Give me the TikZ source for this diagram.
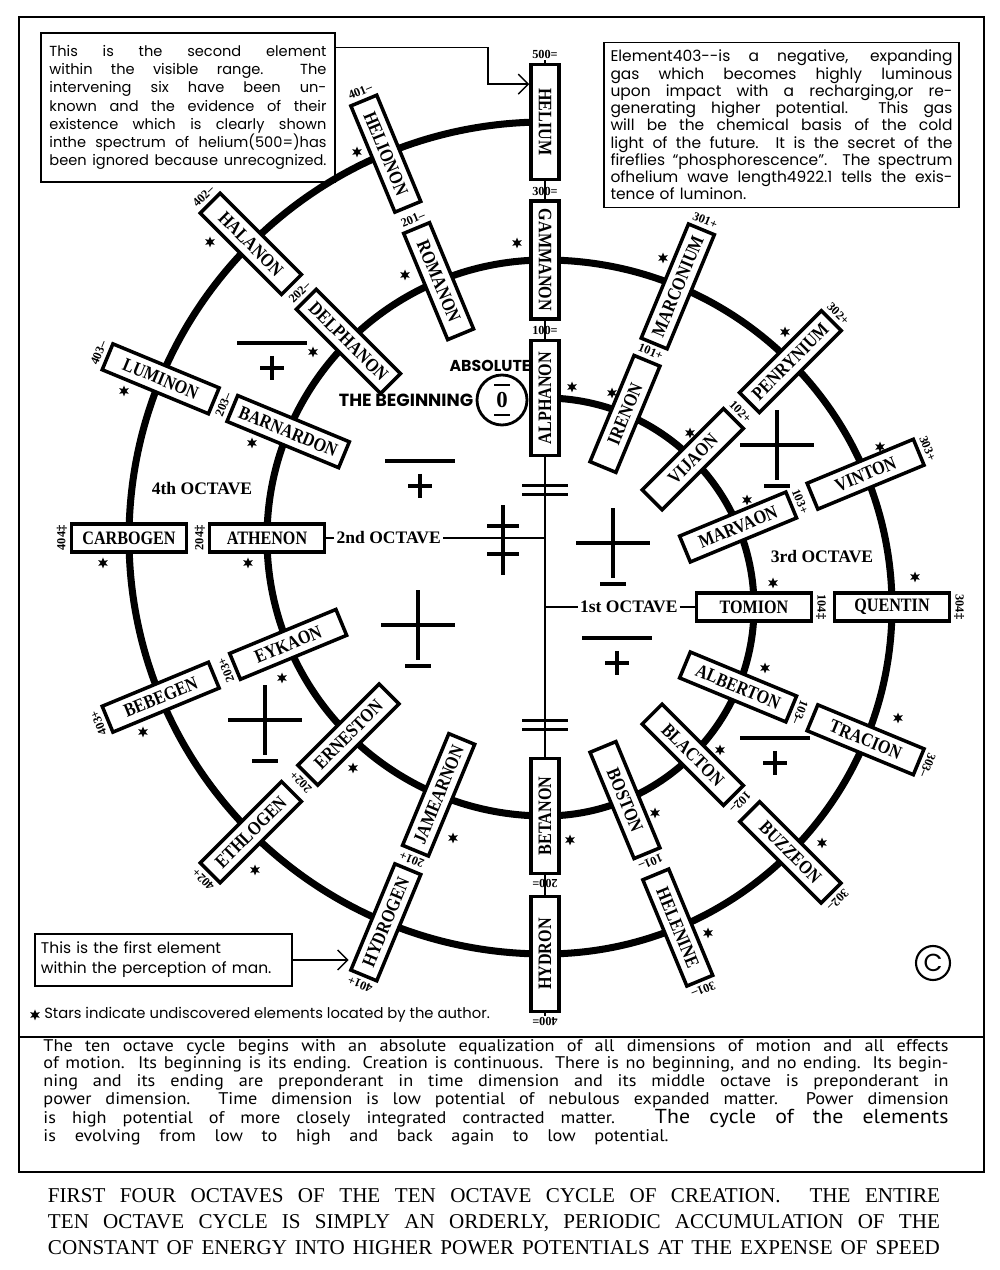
\documentclass[tikz,border=0pt]{standalone}
\usepackage{fontspec}
\setmainfont{Liberation Serif}
\newfontfamily\elemfont[FakeStretch=0.85]{Liberation Serif}
\newfontfamily\notefont{Poppins}
\newfontfamily\parafont[FakeStretch=1.08]{PT Sans}
\usetikzlibrary{arrows.meta,positioning,calc,backgrounds,shapes.geometric}

\newcommand{\spread}[1]{\makebox[\hsize][s]{\spaceskip=0pt\xspaceskip=0pt #1}}

\tikzset{
  barplus/.pic={\draw[sym] (-35,0) -- (35,0) (-12,-25) -- (12,-25) (0,-13) -- (0,-37);},
  plusbar/.pic={\draw[sym] (-37,0) -- (37,0) (0,-35) -- (0,35) (-13,-41) -- (13,-41);},
  eqbar/.pic={\draw[sym] (-23,4.5) -- (23,4.5) (-23,-4.5) -- (23,-4.5);},
  crossbar/.pic={\draw[sym] (0,-35) -- (0,35) (-16,14) -- (16,14) (-16,-14) -- (16,-14);}
}

\begin{document}
\begin{tikzpicture}[
  x=0.2mm, y=0.2mm,
  elem/.style={draw,line width=2pt,fill=white,minimum width=23mm,minimum height=5.6mm,
               inner xsep=1.6mm,inner ysep=0pt,font=\elemfont\fontsize{10.8}{11}\selectfont\bfseries},
  num/.style={inner sep=0.5pt,font=\fontsize{7}{8}\selectfont\bfseries},
  octave/.style={inner sep=1pt,font=\fontsize{10}{12}\selectfont\bfseries},
  note/.style={draw,line width=0.9pt,inner xsep=1.7mm,inner ysep=1.5mm,align=left,
               font=\notefont\fontsize{8.3}{10.4}\selectfont},
  begintext/.style={inner sep=0pt,font=\notefont\bfseries\fontsize{9}{10}\selectfont},
  ring/.style={line width=4pt,line join=round},
  thinline/.style={line width=0.8pt},
  sym/.style={line width=2pt},
  pointer/.style={line width=0.8pt,-{Straight Barb[length=2mm]}},
  starmark/.style={star,star points=6,star point ratio=2.2,fill,inner sep=0pt,minimum size=2.2mm},
  panel/.style={line width=1.1pt}
]
\useasboundingbox (0,0) rectangle (1000,1270);

\coordinate (R) at (545,663);
\coordinate (L) at (545,732);

% the four octaves as one spiral
\draw[ring] ($(R)+(0,209)$) arc[start angle=90,end angle=-90,radius=209]
  arc[start angle=270,end angle=90,radius=278]
  arc[start angle=90,end angle=-90,radius=347]
  arc[start angle=270,end angle=90,radius=416];

\draw[panel] (19,98) rectangle (984,1253);
\draw[panel] (19,233) -- (984,233);

% 1st and 3rd octave
\node[elem,rotate=90] (alphanon) at ($(R)+(90:209)$) {ALPHANON};
\node[elem,rotate=-90] (gammanon) at ($(R)+(90:347)$) {GAMMANON};
\node[elem,rotate=67.5] (irenon) at ($(R)+(67.5:209)$) {IRENON};
\node[elem,rotate=67.5] (marconium) at ($(R)+(67.5:347)$) {MARCONIUM};
\node[elem,rotate=45] (vijaon) at ($(R)+(45:209)$) {VIJAON};
\node[elem,rotate=45] (penrynium) at ($(R)+(45:347)$) {PENRYNIUM};
\node[elem,rotate=22.5] (marvaon) at ($(R)+(22.5:209)$) {MARVAON};
\node[elem,rotate=22.5] (vinton) at ($(R)+(22.5:347)$) {VINTON};
\node[elem] (tomion) at ($(R)+(0:209)$) {TOMION};
\node[elem] (quentin) at ($(R)+(0:347)$) {QUENTIN};
\node[elem,rotate=-22.5] (alberton) at ($(R)+(-22.5:209)$) {ALBERTON};
\node[elem,rotate=-22.5] (tracion) at ($(R)+(-22.5:347)$) {TRACION};
\node[elem,rotate=-45] (blacton) at ($(R)+(-45:209)$) {BLACTON};
\node[elem,rotate=-45] (buzzeon) at ($(R)+(-45:347)$) {BUZZEON};
\node[elem,rotate=-67.5] (boston) at ($(R)+(-67.5:209)$) {BOSTON};
\node[elem,rotate=-67.5] (helenine) at ($(R)+(-67.5:347)$) {HELENINE};
\node[elem,rotate=90] (betanon) at ($(R)+(-90:209)$) {BETANON};
\node[elem,rotate=90] (hydron) at ($(R)+(-90:347)$) {HYDRON};

% 2nd and 4th octave
\node[elem,rotate=-90] (helium) at ($(L)+(90:416)$) {HELIUM};
\node[elem,rotate=-67.5] (romanon) at ($(L)+(112.5:278)$) {ROMANON};
\node[elem,rotate=-67.5] (helionon) at ($(L)+(112.5:416)$) {HELIONON};
\node[elem,rotate=-45] (delphanon) at ($(L)+(135:278)$) {DELPHANON};
\node[elem,rotate=-45] (halanon) at ($(L)+(135:416)$) {HALANON};
\node[elem,rotate=-22.5] (barnardon) at ($(L)+(157.5:278)$) {BARNARDON};
\node[elem,rotate=-22.5] (luminon) at ($(L)+(157.5:416)$) {LUMINON};
\node[elem] (athenon) at ($(L)+(180:278)$) {ATHENON};
\node[elem] (carbogen) at ($(L)+(180:416)$) {CARBOGEN};
\node[elem,rotate=22.5] (eykaon) at ($(L)+(202.5:278)$) {EYKAON};
\node[elem,rotate=22.5] (bebegen) at ($(L)+(202.5:416)$) {BEBEGEN};
\node[elem,rotate=45] (erneston) at ($(L)+(225:278)$) {ERNESTON};
\node[elem,rotate=45] (ethlogen) at ($(L)+(225:416)$) {ETHLOGEN};
\node[elem,rotate=67.5] (jamearnon) at ($(L)+(247.5:278)$) {JAMEARNON};
\node[elem,rotate=67.5] (hydrogen) at ($(L)+(247.5:416)$) {HYDROGEN};

\node[num] (n100) at ($(alphanon.east)+(90:8)$) {100=};
\node[num] (n300) at ($(gammanon.west)+(90:8)$) {300=};
\node[num,rotate=-22.5] (n101p) at ($(irenon.east)+(67.5:8)$) {101+};
\node[num,rotate=-22.5] (n301p) at ($(marconium.east)+(67.5:8)$) {301+};
\node[num,rotate=-45] (n102p) at ($(vijaon.east)+(45:8)$) {102+};
\node[num,rotate=-45] (n302p) at ($(penrynium.east)+(45:8)$) {302+};
\node[num,rotate=-67.5] (n103p) at ($(marvaon.east)+(22.5:8)$) {103+};
\node[num,rotate=-67.5] (n303p) at ($(vinton.east)+(22.5:8)$) {303+};
\node[num,rotate=-90] (n104) at ($(tomion.east)+(0:8)$) {104\textdaggerdbl};
\node[num,rotate=-90] (n304) at ($(quentin.east)+(0:8)$) {304\textdaggerdbl};
\node[num,rotate=-112.5] (n103m) at ($(alberton.east)+(-22.5:8)$) {103--};
\node[num,rotate=-112.5] (n303m) at ($(tracion.east)+(-22.5:8)$) {303--};
\node[num,rotate=-135] (n102m) at ($(blacton.east)+(-45:8)$) {102--};
\node[num,rotate=-135] (n302m) at ($(buzzeon.east)+(-45:8)$) {302--};
\node[num,rotate=-157.5] (n101m) at ($(boston.east)+(-67.5:8)$) {101--};
\node[num,rotate=-157.5] (n301m) at ($(helenine.east)+(-67.5:8)$) {301--};
\node[num,rotate=180] (n200) at ($(betanon.west)+(-90:8)$) {200=};
\node[num,rotate=180] (n400) at ($(hydron.west)+(-90:8)$) {400=};
\node[num] (n500) at ($(helium.west)+(90:8)$) {500=};
\node[num,rotate=22.5] (n201m) at ($(romanon.west)+(112.5:8)$) {201--};
\node[num,rotate=22.5] (n401m) at ($(helionon.west)+(112.5:8)$) {401--};
\node[num,rotate=45] (n202m) at ($(delphanon.west)+(135:8)$) {202--};
\node[num,rotate=45] (n402m) at ($(halanon.west)+(135:8)$) {402--};
\node[num,rotate=67.5] (n203m) at ($(barnardon.west)+(157.5:8)$) {203--};
\node[num,rotate=67.5] (n403m) at ($(luminon.west)+(157.5:8)$) {403--};
\node[num,rotate=90] (n204) at ($(athenon.west)+(180:8)$) {204\textdaggerdbl};
\node[num,rotate=90] (n404) at ($(carbogen.west)+(180:8)$) {404\textdaggerdbl};
\node[num,rotate=112.5] (n203p) at ($(eykaon.west)+(202.5:8)$) {203+};
\node[num,rotate=112.5] (n403p) at ($(bebegen.west)+(202.5:8)$) {403+};
\node[num,rotate=135] (n202p) at ($(erneston.west)+(225:8)$) {202+};
\node[num,rotate=135] (n402p) at ($(ethlogen.west)+(225:8)$) {402+};
\node[num,rotate=157.5] (n201p) at ($(jamearnon.west)+(247.5:8)$) {201+};
\node[num,rotate=157.5] (n401p) at ($(hydrogen.west)+(247.5:8)$) {401+};

\node[octave,right=6.6mm of R] (oct1) {1st OCTAVE};
\node[octave,left=20.4mm of L] (oct2) {2nd OCTAVE};
\node[octave] (oct3) at (822,713) {3rd OCTAVE};
\node[octave] (oct4) at (202,781) {4th OCTAVE};

\draw[thinline] (R) -- (oct1.west);
\draw[thinline] (oct1.east) -- (tomion.west);
\draw[thinline] (athenon.east) -- (oct2.west);
\draw[thinline] (oct2.east) -- (oct2.east -| L);

\node[circle,draw,line width=1.6pt,minimum size=10mm,inner sep=0pt,
      font=\fontsize{13}{13}\selectfont\bfseries] (zero) at (502,870) {0};
\draw[line width=1.2pt] ($(zero.center)+(-8,15)$) -- ++(16,0)
  ($(zero.center)+(-8,-15)$) -- ++(16,0);
\node[begintext,font=\notefont\bfseries\fontsize{10}{10}\selectfont,left=0.4mm of zero] (beginning) {THE BEGINNING};
\node[begintext] (absolute) at (490,904) {ABSOLUTE};

\pic at (272,927) {barplus};
\pic at (420,809) {barplus};
\pic at (617,632) {barplus};
\pic at (775,532) {barplus};
\pic at (418,645) {plusbar};
\pic at (265,550) {plusbar};
\pic at (613,727) {plusbar};
\pic at (777,825) {plusbar};
\pic at (545,780) {eqbar};
\pic at (545,545) {eqbar};
\pic at (503,730) {crossbar};

\foreach \p [count=\i] in {(357,1118),(210,1028),(405,995),(313,918),(124,879),
    (252,827),(103,707),(248,707),(282,592),(143,538),(353,502),(255,400),(453,432),
    (517,1027),(663,1012),(572,883),(612,877),(785,938),(690,837),(880,823),
    (747,770),(773,687),(915,693),(765,602),(898,552),(720,520),(655,457),
    (570,430),(822,427),(708,337)}
  \node[starmark] (star\i) at \p {};

\node[note,text width=55.4mm,minimum height=29.8mm] (secnote) at (188,1162.5) {%
\noindent\spread{This is the second element}\\
\spread{within the visible range.\ \ The}\\
\spread{intervening six have been un-}\\
\spread{known and the evidence of their}\\
\spread{existence which is clearly shown}\\
\spread{inthe spectrum of helium(500=)has}\\
\spread{been ignored because unrecognized.}};

\node[note,text width=68.4mm,inner xsep=1.3mm,minimum height=32.8mm,
      font=\notefont\fontsize{8.8}{9.8}\selectfont] (lumnote) at (781.5,1145) {%
\noindent\spread{Element403--is a negative, expanding}\\
\spread{gas which becomes highly luminous}\\
\spread{upon impact with a recharging,or re-}\\
\spread{generating higher potential.\ \ This gas}\\
\spread{will be the chemical basis of the cold}\\
\spread{light of the future.\ \ It is the secret of the}\\
\spread{fireflies “phosphorescence”.\ \ The spectrum}\\
\spread{ofhelium wave length4922.1 tells the exis-}\\
tence of luminon.};

\node[note,text width=49mm,inner xsep=1.2mm,minimum height=10.4mm,
      font=\notefont\fontsize{8.8}{11.3}\selectfont] (firstnote) at (163.5,310) {%
This is the first element\\within the perception of man.};

\draw[pointer] ($(secnote.north east)!0.1!(secnote.south east)$) -- ++(152,0)
  |- ($(helium.south)!0.64!(helium.south west)$);
\draw[pointer] (firstnote.east) -- (firstnote.east -| hydrogen.north west);

\node[starmark] (legstar) at (35,255) {};
\node[inner sep=0pt,right=1.2mm of legstar,font=\notefont\fontsize{8.4}{10}\selectfont] (legend)
  {Stars indicate undiscovered elements located by the author.};

\node[circle,draw,line width=1.2pt,minimum size=6.8mm,inner sep=0pt,
      font=\notefont\fontsize{14}{14}\selectfont] (copymark) at (933,307) {C};

\node[inner sep=0pt,text width=181mm,align=left,font=\parafont\fontsize{9.6}{10}\selectfont]
  (cyclenote) at (496,178) {%
\noindent\spread{The ten octave cycle begins with an absolute equalization of all dimensions of motion and all effects}\\
\spread{of motion.\ \ Its beginning is its ending. Creation is continuous. There is no beginning, and no ending. Its begin-}\\
\spread{ning and its ending are preponderant in time dimension and its middle octave is preponderant in}\\
\spread{power dimension.\ \ Time dimension is low potential of nebulous expanded matter.\ \ Power dimension}\\
\spread{is high potential of more closely integrated contracted matter. {\fontsize{11.5}{10}\selectfont The cycle of the elements}}\\
\makebox[125mm][s]{\spaceskip=0pt\xspaceskip=0pt is evolving from low to high and back again to low potential.}};

\node[inner sep=0pt,text width=178.4mm,align=left,font=\fontsize{12}{14.7}\selectfont]
  (caption) at (494,48) {%
\noindent\spread{FIRST FOUR OCTAVES OF THE TEN OCTAVE CYCLE OF CREATION.\ \ THE ENTIRE}\\
\spread{TEN OCTAVE CYCLE IS SIMPLY AN ORDERLY, PERIODIC ACCUMULATION OF THE}\\
\spread{CONSTANT OF ENERGY INTO HIGHER POWER POTENTIALS AT THE EXPENSE OF SPEED}};

\begin{scope}[on background layer]
\draw[thinline] (n500) -- (n400);
\end{scope}
\end{tikzpicture}
\end{document}
